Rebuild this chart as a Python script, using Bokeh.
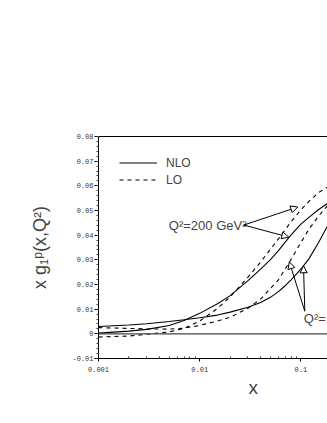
from bokeh.plotting import figure
from bokeh.models import (Range1d, LogAxis, FixedTicker, SingleIntervalTicker,
                          CustomJSTickFormatter, Span, Label, Arrow, NormalHead,
                          Legend, LegendItem, Title)
from bokeh.embed import file_html
from bokeh.resources import INLINE

# ---- data ----
x = [0.001, 0.002, 0.003, 0.005, 0.007, 0.01, 0.015, 0.02, 0.03, 0.04,
     0.05, 0.06, 0.07, 0.08, 0.1, 0.12, 0.15, 0.185]
nlo_q200 = [0.0003, 0.0011, 0.0018, 0.0034, 0.0054, 0.0083, 0.0122, 0.0155, 0.0216, 0.0262,
            0.0301, 0.0337, 0.0372, 0.0401, 0.0445, 0.0472, 0.0504, 0.0530]
lo_q200 = [-0.0013, -0.0009, -0.0002, 0.0008, 0.0022, 0.0052, 0.0103, 0.0150, 0.0230, 0.0291,
           0.0343, 0.0385, 0.0422, 0.0455, 0.0502, 0.0537, 0.0573, 0.0596]
nlo_qlow = [0.0030, 0.0036, 0.0041, 0.0050, 0.0057, 0.0065, 0.0076, 0.0088, 0.0108, 0.0127,
            0.0148, 0.0171, 0.0195, 0.0219, 0.0262, 0.0304, 0.0371, 0.0441]
lo_qlow = [0.0025, 0.0022, 0.0020, 0.0019, 0.0023, 0.0034, 0.0052, 0.0067, 0.0104, 0.0141,
           0.0184, 0.0219, 0.0263, 0.0302, 0.0370, 0.0424, 0.0478, 0.0522]

x_major_ticks = [0.001, 0.01, 0.1]
x_minor_ticks = [m * d for d in (0.001, 0.01, 0.1) for m in range(2, 10)]
legend_labels = ["NLO", "LO"]
label_200 = "Q\u00b2=200 GeV\u00b2"
label_low = "Q\u00b2=10 GeV\u00b2"

SANS = "Liberation Sans"
MONO = "Liberation Mono"

p = figure(width=327, height=420, x_axis_type="log",
           x_range=Range1d(0.001, 0.1832), y_range=Range1d(-0.01, 0.08),
           output_backend="svg", toolbar_location=None,
           min_border_left=98, min_border_right=0,
           min_border_top=136, min_border_bottom=62)
p.outline_line_color = None
p.grid.visible = False
p.background_fill_color = "white"

# zero line
p.add_layout(Span(location=0, dimension="width", line_color="#444", line_width=1.2))

# curves
r_nlo200 = p.line(x, nlo_q200, line_color="black", line_width=1.1)
r_lo200 = p.line(x, lo_q200, line_color="black", line_width=1.1, line_dash="4 4")
p.line(x, nlo_qlow, line_color="black", line_width=1.1)
p.line(x, lo_qlow, line_color="black", line_width=1.1, line_dash="4 4")

# x axis
xa = p.xaxis[0]
xa.ticker = FixedTicker(ticks=x_major_ticks, minor_ticks=x_minor_ticks)
xa.formatter = CustomJSTickFormatter(code="return tick.toString();")
xa.major_tick_out = 3
xa.major_tick_in = 0
xa.minor_tick_in = 2
xa.minor_tick_out = 0
xa.major_label_standoff = 5
xa.major_label_text_font = MONO
xa.major_label_text_font_size = "7px"
xa.major_label_text_color = "#333"
xa.axis_line_color = "black"
xa.major_tick_line_color = "black"
xa.minor_tick_line_color = "#444"

# y axis
ya = p.yaxis[0]
ya.ticker = SingleIntervalTicker(interval=0.01, num_minor_ticks=5)
ya.formatter = CustomJSTickFormatter(
    code="return Math.abs(tick) < 1e-9 ? '0' : tick.toFixed(2);")
ya.major_tick_out = 4
ya.major_tick_in = 0
ya.minor_tick_out = 2
ya.minor_tick_in = 0
ya.major_label_standoff = 1
ya.major_label_text_font = MONO
ya.major_label_text_font_size = "7px"
ya.major_label_text_color = "#333"
ya.axis_line_color = "black"
ya.major_tick_line_color = "black"
ya.minor_tick_line_color = "#444"
ya.axis_label = "x g\u2081\u1d56(x,Q\u00b2)"
ya.axis_label_text_font = SANS
ya.axis_label_text_font_size = "18px"
ya.axis_label_text_font_style = "normal"
ya.axis_label_standoff = 19

# top frame line
top = LogAxis(ticker=FixedTicker(ticks=[]), major_label_text_font_size="0px",
              major_tick_out=0, major_tick_in=0, minor_tick_out=0, minor_tick_in=0,
              axis_line_color="black")
p.add_layout(top, "above")

# x axis label (the original frame extended further right, so it sits right of centre)
p.add_layout(Title(text="x", align="left", offset=150, standoff=0,
                   text_font=SANS, text_font_size="19px", text_font_style="normal"),
             "below")

# legend
legend = Legend(items=[LegendItem(label=legend_labels[0], renderers=[r_nlo200]),
                       LegendItem(label=legend_labels[1], renderers=[r_lo200])],
                location=(21, 170), glyph_width=38, glyph_height=17, label_height=17,
                label_standoff=9, padding=0, margin=0, spacing=0,
                border_line_color=None, background_fill_alpha=0,
                label_text_font=SANS, label_text_font_size="12px")
p.add_layout(legend)

# annotations
p.add_layout(Label(x=0.00495, y=0.0441, text=label_200, text_align="left",
                   text_baseline="middle", text_font=SANS, text_font_size="13px"))
p.add_layout(Label(x=0.107, y=0.0063, text=label_low, text_align="left",
                   text_baseline="middle", text_font=SANS, text_font_size="13px"))

def head():
    return NormalHead(size=7, fill_color="white", line_color="black", line_width=1)

for (xs, ys, xe, ye) in [(0.0273, 0.0441, 0.0931, 0.0514),
                         (0.0273, 0.0441, 0.0759, 0.0392),
                         (0.1093, 0.00915, 0.0768, 0.0292),
                         (0.1093, 0.00915, 0.1061, 0.0276)]:
    p.add_layout(Arrow(end=head(), x_start=xs, y_start=ys, x_end=xe, y_end=ye,
                       line_color="black", line_width=1))

open("out.html", "w").write(file_html(p, INLINE))
